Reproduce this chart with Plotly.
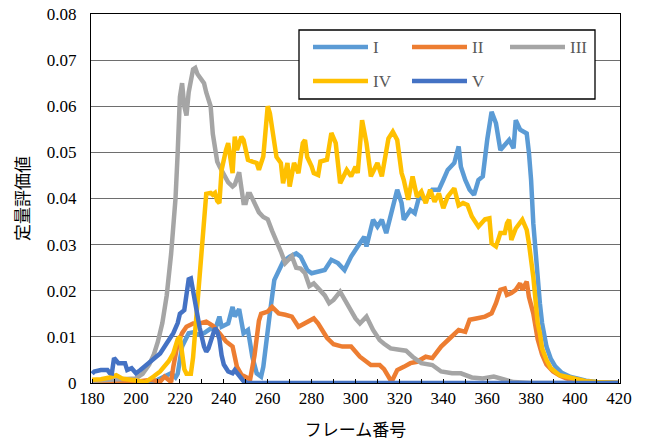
import plotly.graph_objects as go

# ---- data (frame number, evaluation value) ----
names = ["I", "II", "III", "IV", "V"]
colors = ["#5B9BD5", "#ED7D31", "#A5A5A5", "#FFC000", "#4472C4"]

frames_I = [180, 190, 200, 205, 209, 211, 214, 216, 218, 219, 221, 224, 226, 228, 231, 234, 236, 238, 239,
            242, 244, 245, 247, 249, 251, 253, 255, 257, 258, 259, 261, 263, 265, 267, 270, 273, 275, 278,
            280, 283, 286, 289, 292, 295, 298, 301, 304, 305, 308, 310, 312, 314, 317, 319, 321, 322, 325,
            327, 329, 332, 335, 338, 340, 342, 345, 347, 348, 350, 352, 354, 356, 358, 360, 362, 364, 366,
            368, 370, 372, 373, 375, 378, 379, 380, 381, 382, 383, 384, 385, 386, 387, 389, 391, 394, 398,
            401, 405, 410, 415, 420]
vals_I = [0.0003, 0.0003, 0.0003, 0.0002, 0.0005, 0.0010, 0.0015, 0.0021, 0.0012, 0.0020, 0.0079, 0.0108,
          0.0110, 0.0105, 0.0108, 0.0118, 0.0115, 0.0144, 0.0122, 0.0129, 0.0165, 0.0144, 0.0160, 0.0108,
          0.0115, 0.0057, 0.0021, 0.0014, 0.0035, 0.0079, 0.0151, 0.0223, 0.0245, 0.0263, 0.0274, 0.0281,
          0.0274, 0.0245, 0.0238, 0.0241, 0.0245, 0.0267, 0.0260, 0.0245, 0.0274, 0.0296, 0.0317, 0.0296,
          0.0354, 0.0339, 0.0354, 0.0325, 0.0382, 0.0419, 0.0390, 0.0354, 0.0375, 0.0368, 0.0404, 0.0397,
          0.0419, 0.0419, 0.0440, 0.0462, 0.0477, 0.0513, 0.0469, 0.0440, 0.0419, 0.0408, 0.0440, 0.0448,
          0.0527, 0.0588, 0.0563, 0.0505, 0.0516, 0.0527, 0.0509, 0.0570, 0.0549, 0.0541, 0.0500, 0.0440,
          0.0346, 0.0280, 0.0220, 0.0173, 0.0130, 0.0098, 0.0079, 0.0052, 0.0036, 0.0022, 0.0013, 0.0010,
          0.0005, 0.0002, 0.0001, 0.0]

frames_II = [180, 190, 200, 207, 211, 213, 216, 217, 219, 221, 223, 226, 229, 232, 235, 238, 241, 244, 246,
             248, 250, 252, 254, 256, 257, 260, 262, 265, 268, 271, 274, 277, 279, 281, 283, 287, 290, 294,
             298, 302, 307, 311, 313, 315, 316, 317, 319, 322, 325, 328, 332, 335, 339, 343, 347, 350, 352,
             355, 359, 362, 364, 366, 368, 369, 371, 373, 375, 376, 378, 379, 381, 383, 385, 387, 390, 393,
             396, 400, 405, 410, 420]
vals_II = [0.0002, 0.0002, 0.0003, 0.0007, 0.0003, 0.0014, 0.0002, 0.0035, 0.0086, 0.0108, 0.0122, 0.0129,
           0.0129, 0.0133, 0.0124, 0.0108, 0.0090, 0.0079, 0.0035, 0.0018, 0.0012, 0.0008, 0.0060, 0.0135,
           0.0150, 0.0155, 0.0165, 0.0151, 0.0148, 0.0144, 0.0122, 0.0129, 0.0135, 0.0140, 0.0129, 0.0098,
           0.0084, 0.0079, 0.0079, 0.0057, 0.0039, 0.0039, 0.0030, 0.0014, 0.0006, 0.0008, 0.0028, 0.0035,
           0.0043, 0.0046, 0.0057, 0.0054, 0.0079, 0.0097, 0.0115, 0.0111, 0.0137, 0.0140, 0.0144, 0.0151,
           0.0173, 0.0202, 0.0205, 0.0191, 0.0195, 0.0202, 0.0216, 0.0202, 0.0220, 0.0187, 0.0151, 0.0095,
           0.0062, 0.0040, 0.0025, 0.0016, 0.0010, 0.0005, 0.0002, 0.0001, 0.0]

frames_III = [180, 190, 200, 203, 206, 208, 210, 212, 214, 216, 218, 219, 220, 221, 222, 223, 224, 226, 227,
              228, 230, 231, 232, 233, 234, 235, 236, 237, 238, 240, 242, 244, 245, 247, 248, 249, 250, 251,
              252, 254, 256, 258, 260, 262, 264, 266, 268, 270, 271, 273, 275, 277, 279, 281, 284, 286, 288,
              290, 293, 295, 297, 300, 302, 305, 308, 311, 313, 316, 320, 323, 326, 330, 335, 339, 344, 348,
              353, 358, 363, 368, 372, 380, 420]
vals_III = [0.0005, 0.0008, 0.0010, 0.0020, 0.0040, 0.0060, 0.0090, 0.0130, 0.0190, 0.0280, 0.0400, 0.0500,
            0.0620, 0.0650, 0.0600, 0.0580, 0.0630, 0.0680, 0.0683, 0.0670, 0.0657, 0.0650, 0.0630, 0.0615,
            0.0600, 0.0540, 0.0500, 0.0480, 0.0470, 0.0450, 0.0435, 0.0426, 0.0430, 0.0457, 0.0430, 0.0390,
            0.0390, 0.0410, 0.0410, 0.0390, 0.0370, 0.0360, 0.0355, 0.0330, 0.0310, 0.0285, 0.0260, 0.0270,
            0.0275, 0.0250, 0.0248, 0.0238, 0.0210, 0.0216, 0.0202, 0.0190, 0.0173, 0.0180, 0.0198, 0.0180,
            0.0162, 0.0140, 0.0129, 0.0144, 0.0115, 0.0093, 0.0085, 0.0075, 0.0072, 0.0070, 0.0057, 0.0043,
            0.0039, 0.0025, 0.0021, 0.0021, 0.0012, 0.0010, 0.0014, 0.0006, 0.0002, 0.0, 0.0]

frames_IV = [180, 184, 188, 191, 194, 198, 201, 204, 206, 208, 211, 213, 215, 217, 219, 220, 221, 222, 223,
             225, 226, 227, 228, 229, 230, 231, 232, 234, 235, 236, 237, 238, 239, 241, 242, 244, 245, 246,
             248, 249, 251, 253, 255, 256, 258, 260, 261, 264, 266, 267, 269, 270, 272, 274, 276, 277, 278,
             280, 281, 283, 284, 287, 289, 291, 293, 296, 298, 300, 301, 303, 305, 307, 310, 312, 315, 317,
             319, 321, 322, 324, 326, 328, 330, 332, 334, 336, 338, 340, 342, 345, 347, 349, 351, 353, 356,
             359, 361, 362, 364, 365, 366, 368, 369, 370, 371, 373, 375, 376, 378, 379, 381, 382, 383, 384,
             385, 387, 389, 393, 399, 405, 410, 420]
vals_IV = [0.0007, 0.0008, 0.0012, 0.0017, 0.0009, 0.0007, 0.0005, 0.0001, 0.0007, 0.0014, 0.0025, 0.0035,
           0.0048, 0.0064, 0.0095, 0.0100, 0.0065, 0.0030, 0.0020, 0.0020, 0.0055, 0.0115, 0.0170, 0.0223,
           0.0300, 0.0370, 0.0410, 0.0412, 0.0408, 0.0412, 0.0395, 0.0390, 0.0462, 0.0505, 0.0520, 0.0455,
           0.0534, 0.0505, 0.0534, 0.0527, 0.0484, 0.0480, 0.0477, 0.0462, 0.0491, 0.0600, 0.0585, 0.0490,
           0.0477, 0.0433, 0.0477, 0.0426, 0.0477, 0.0455, 0.0520, 0.0527, 0.0490, 0.0470, 0.0455, 0.0451,
           0.0480, 0.0484, 0.0542, 0.0520, 0.0433, 0.0462, 0.0448, 0.0469, 0.0455, 0.0570, 0.0520, 0.0448,
           0.0477, 0.0448, 0.0530, 0.0545, 0.0527, 0.0455, 0.0440, 0.0397, 0.0448, 0.0404, 0.0415, 0.0390,
           0.0419, 0.0393, 0.0411, 0.0379, 0.0404, 0.0422, 0.0385, 0.0390, 0.0386, 0.0361, 0.0339, 0.0355,
           0.0357, 0.0303, 0.0296, 0.0310, 0.0325, 0.0325, 0.0346, 0.0354, 0.0310, 0.0335, 0.0346, 0.0354,
           0.0332, 0.0303, 0.0230, 0.0180, 0.0130, 0.0108, 0.0075, 0.0050, 0.0032, 0.0017, 0.0010, 0.0004,
           0.0002, 0.0]

frames_V = [180, 181, 184, 187, 188, 189, 190, 191, 192, 195, 196, 198, 200, 202, 205, 208, 211, 214, 217,
            219, 220, 222, 223, 224, 225, 226, 227, 229, 231, 232, 233, 235, 236, 237, 238, 239, 240, 242,
            244, 245, 247, 249, 251, 420]
vals_V = [0.0020, 0.0025, 0.0028, 0.0028, 0.0022, 0.0021, 0.0054, 0.0050, 0.0043, 0.0043, 0.0028, 0.0032,
          0.0021, 0.0028, 0.0039, 0.0050, 0.0064, 0.0086, 0.0108, 0.0130, 0.0150, 0.0158, 0.0190, 0.0225,
          0.0227, 0.0200, 0.0160, 0.0120, 0.0079, 0.0068, 0.0075, 0.0108, 0.0119, 0.0112, 0.0095, 0.0060,
          0.0040, 0.0025, 0.0021, 0.0028, 0.0014, 0.0004, 0.0, 0.0]

x_ticks = list(range(180, 421, 20))
y_ticks = [0, 0.01, 0.02, 0.03, 0.04, 0.05, 0.06, 0.07, 0.08]
y_ticktext = ["0", "0.01", "0.02", "0.03", "0.04", "0.05", "0.06", "0.07", "0.08"]
x_title = "フレーム番号"
y_title = "定量評価値"

series_x = [frames_I, frames_II, frames_III, frames_IV, frames_V]
series_y = [vals_I, vals_II, vals_III, vals_IV, vals_V]

# ---- figure ----
W, H = 645, 441
ML, MR, MT, MB = 91, 25, 14, 58
pw, ph = W - ML - MR, H - MT - MB

fig = go.Figure()
for n, c, xs, ys in zip(names, colors, series_x, series_y):
    fig.add_trace(go.Scatter(x=xs, y=ys, name=n, mode="lines",
                             line=dict(color=c, width=4.5), showlegend=False))

serif = "Liberation Serif, Times New Roman, Noto Sans CJK JP, serif"
cjk = "Noto Sans CJK JP, Liberation Serif, serif"

fig.update_layout(
    width=W, height=H,
    margin=dict(l=ML, r=MR, t=MT, b=MB, pad=0, autoexpand=False),
    paper_bgcolor="white", plot_bgcolor="white",
    font=dict(family=serif, size=17, color="#000000"),
    xaxis=dict(range=[179.5, 420.5], tickvals=x_ticks, ticks="inside", ticklen=4,
               tickcolor="#000000", showline=True, linecolor="#000000", linewidth=1,
               mirror=True, showgrid=False, zeroline=False, automargin=False,
               minor=dict(dtick=10, tick0=180, ticks="inside", ticklen=4, tickcolor="#000000"),
               tickfont=dict(family=serif, size=17),
               title=dict(text=x_title, font=dict(family=cjk, size=17), standoff=18)),
    yaxis=dict(range=[0, 0.08], tickvals=y_ticks, ticktext=y_ticktext, ticks="",
               showline=True, linecolor="#000000", linewidth=1, mirror=True,
               showgrid=True, gridcolor="#6e6e6e", gridwidth=1, zeroline=False,
               ticklabelstandoff=10, automargin=False,
               tickfont=dict(family=serif, size=17),
               title=dict(text=y_title, font=dict(family=cjk, size=17), standoff=12)),
)

# ---- custom legend (box, sample lines, labels) ----
def px_x(p):
    return (p - ML) / pw

def px_y(p):
    return (H - MB - p) / ph

shapes = [dict(type="rect", xref="paper", yref="paper",
               x0=px_x(299), x1=px_x(595), y0=px_y(99), y1=px_y(30),
               line=dict(color="#000000", width=1.3), fillcolor="white", layer="above")]
anns = []
legend_pos = [(313, 47), (412, 47), (510, 47), (313, 81), (412, 81)]
for (lx, ly), n, c in zip(legend_pos, names, colors):
    shapes.append(dict(type="line", xref="paper", yref="paper",
                       x0=px_x(lx), x1=px_x(lx + 55), y0=px_y(ly), y1=px_y(ly),
                       line=dict(color=c, width=4.5), layer="above"))
    anns.append(dict(xref="paper", yref="paper", x=px_x(lx + 58), y=px_y(ly),
                     xanchor="left", yanchor="middle", showarrow=False, text=n,
                     font=dict(family=serif, size=17, color="#595959")))
fig.update_layout(shapes=shapes, annotations=anns)

fig.write_html("out.html", config={"displayModeBar": False},
               post_script="document.body.style.margin='0';"
                           "document.documentElement.style.overflow='hidden';")
